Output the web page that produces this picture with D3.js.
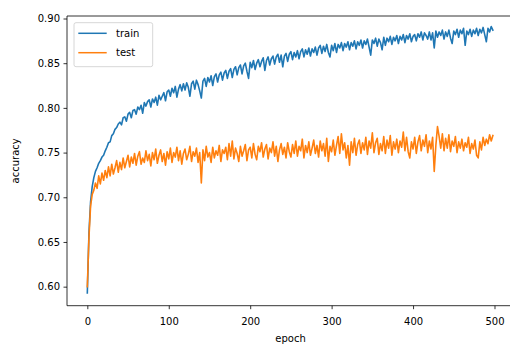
<!DOCTYPE html>
<html>
<head>
<meta charset="utf-8">
<script src="https://cdn.jsdelivr.net/npm/d3@7"></script>
<style>
  html, body { margin: 0; padding: 0; background: #fff; }
  svg { display: block; }
  text { font-family: "DejaVu Sans", sans-serif; }
</style>
</head>
<body>
<svg id="chart" width="510" height="345"></svg>
<script>
// ---- data (values every 2 epochs) ----
const epochStep = 2;
const trainAcc = [
  0.593,0.660,0.695,0.712,0.722,0.729,0.733,0.738,0.741,0.745,
  0.747,0.752,0.756,0.761,0.762,0.769,0.771,0.776,0.778,0.782,
  0.784,0.781,0.789,0.790,0.785,0.793,0.795,0.789,0.797,0.798,
  0.793,0.801,0.798,0.803,0.794,0.806,0.802,0.807,0.809,0.801,
  0.810,0.806,0.812,0.803,0.814,0.809,0.813,0.817,0.808,0.818,
  0.820,0.813,0.822,0.817,0.824,0.812,0.821,0.826,0.819,0.827,
  0.820,0.828,0.823,0.813,0.827,0.830,0.821,0.831,0.826,0.819,
  0.811,0.830,0.833,0.824,0.834,0.829,0.836,0.825,0.835,0.838,
  0.829,0.837,0.840,0.831,0.839,0.842,0.833,0.841,0.844,0.834,
  0.843,0.846,0.837,0.845,0.848,0.838,0.847,0.850,0.841,0.833,
  0.851,0.845,0.853,0.843,0.850,0.854,0.846,0.852,0.856,0.842,
  0.853,0.857,0.848,0.855,0.858,0.849,0.857,0.860,0.851,0.859,
  0.846,0.858,0.861,0.852,0.860,0.863,0.854,0.862,0.857,0.864,
  0.855,0.863,0.866,0.857,0.865,0.860,0.867,0.858,0.866,0.862,
  0.868,0.859,0.867,0.870,0.861,0.869,0.863,0.871,0.862,0.857,
  0.870,0.864,0.872,0.862,0.871,0.867,0.873,0.864,0.872,0.868,
  0.874,0.865,0.873,0.869,0.875,0.866,0.874,0.870,0.876,0.867,
  0.875,0.871,0.877,0.868,0.859,0.876,0.872,0.878,0.869,0.877,
  0.873,0.865,0.879,0.870,0.878,0.874,0.880,0.871,0.879,0.875,
  0.881,0.872,0.880,0.876,0.882,0.873,0.881,0.877,0.883,0.874,
  0.880,0.882,0.875,0.883,0.879,0.885,0.876,0.884,0.881,0.877,
  0.885,0.876,0.884,0.867,0.886,0.879,0.885,0.881,0.887,0.877,
  0.885,0.880,0.887,0.878,0.872,0.886,0.882,0.888,0.879,0.887,
  0.883,0.889,0.870,0.886,0.882,0.888,0.880,0.887,0.883,0.889,
  0.881,0.888,0.884,0.890,0.882,0.874,0.889,0.885,0.891,0.887
];
const testAcc = [
  0.600,0.655,0.690,0.703,0.708,0.716,0.710,0.724,0.715,0.727,
  0.719,0.730,0.722,0.734,0.724,0.737,0.726,0.733,0.741,0.728,
  0.739,0.731,0.744,0.733,0.740,0.747,0.734,0.745,0.738,0.749,
  0.736,0.746,0.751,0.737,0.744,0.739,0.752,0.741,0.748,0.735,
  0.750,0.742,0.754,0.738,0.747,0.753,0.740,0.749,0.736,0.751,
  0.743,0.755,0.739,0.750,0.745,0.756,0.741,0.752,0.737,0.749,
  0.754,0.742,0.748,0.757,0.740,0.751,0.746,0.755,0.739,0.750,
  0.716,0.753,0.741,0.757,0.745,0.750,0.739,0.756,0.744,0.752,
  0.747,0.758,0.740,0.753,0.749,0.756,0.742,0.760,0.746,0.763,
  0.743,0.755,0.749,0.740,0.757,0.746,0.752,0.759,0.741,0.753,
  0.756,0.744,0.760,0.748,0.742,0.757,0.751,0.761,0.745,0.754,
  0.759,0.743,0.755,0.750,0.762,0.746,0.757,0.740,0.753,0.760,
  0.748,0.756,0.744,0.761,0.751,0.745,0.759,0.749,0.763,0.746,
  0.757,0.752,0.765,0.744,0.758,0.750,0.762,0.747,0.755,0.764,
  0.749,0.758,0.745,0.763,0.752,0.760,0.746,0.766,0.740,0.757,
  0.751,0.764,0.747,0.758,0.768,0.749,0.771,0.753,0.761,0.744,
  0.758,0.736,0.762,0.750,0.766,0.747,0.759,0.764,0.749,0.761,
  0.753,0.767,0.748,0.763,0.755,0.772,0.750,0.761,0.766,0.748,
  0.760,0.752,0.768,0.749,0.764,0.755,0.769,0.747,0.762,0.754,
  0.765,0.750,0.763,0.756,0.773,0.752,0.767,0.751,0.744,0.762,
  0.754,0.767,0.749,0.762,0.769,0.752,0.764,0.757,0.770,0.750,
  0.763,0.754,0.767,0.729,0.758,0.779,0.768,0.755,0.771,0.752,
  0.766,0.755,0.770,0.751,0.763,0.757,0.768,0.750,0.762,0.755,
  0.765,0.752,0.761,0.756,0.767,0.749,0.760,0.754,0.764,0.747,
  0.744,0.762,0.753,0.767,0.758,0.765,0.760,0.770,0.763,0.769
];
const seriesNames = ["train", "test"];
const seriesColors = ["#1f77b4", "#ff7f0e"];
const xTicks = [0, 100, 200, 300, 400, 500];
const yTicks = [0.60, 0.65, 0.70, 0.75, 0.80, 0.85, 0.90];
const xLabel = "epoch";
const yLabel = "accuracy";

// ---- layout ----
const W = 510, H = 345;
const plot = { left: 67, top: 16, right: 514, bottom: 305.7 };

const svg = d3.select("#chart");

const x = d3.scaleLinear().domain([-24.95, 523.95]).range([plot.left, plot.right]);
const y = d3.scaleLinear().domain([0.5787, 0.9028]).range([plot.bottom, plot.top]);

const toPts = arr => arr.map((v, i) => [i * epochStep, v]);
const line = d3.line().x(d => x(d[0])).y(d => y(d[1]));

const series = [toPts(trainAcc), toPts(testAcc)];

svg.append("defs").append("clipPath").attr("id", "clip")
  .append("rect").attr("x", plot.left).attr("y", plot.top)
  .attr("width", plot.right - plot.left).attr("height", plot.bottom - plot.top);

const lines = svg.append("g").attr("clip-path", "url(#clip)");
series.forEach((s, i) => {
  lines.append("path")
    .datum(s)
    .attr("d", line)
    .attr("fill", "none")
    .attr("stroke", seriesColors[i])
    .attr("stroke-width", 1.6)
    .attr("stroke-linejoin", "round")
    .attr("stroke-linecap", "square");
});

// axes
const xAxis = svg.append("g")
  .attr("transform", `translate(0,${plot.bottom})`)
  .call(d3.axisBottom(x).tickValues(xTicks).tickFormat(d3.format("d"))
    .tickSize(3.5).tickPadding(3.5));
const yAxis = svg.append("g")
  .attr("transform", `translate(${plot.left},0)`)
  .call(d3.axisLeft(y).tickValues(yTicks).tickFormat(d3.format(".2f"))
    .tickSize(3.5).tickPadding(3.5));
[xAxis, yAxis].forEach(g => {
  g.select(".domain").remove();
  g.selectAll(".tick line").attr("stroke", "#000").attr("stroke-width", 0.8);
  g.selectAll(".tick text").attr("fill", "#000")
    .style("font-family", "'DejaVu Sans', sans-serif").style("font-size", "10px");
});
xAxis.selectAll(".tick text").attr("dy", null).attr("y", 19.8);

// spines
const spine = (x1, y1, x2, y2) => svg.append("line")
  .attr("x1", x1).attr("y1", y1).attr("x2", x2).attr("y2", y2)
  .attr("stroke", "#000").attr("stroke-width", 0.8);
spine(plot.left, plot.top, plot.left, plot.bottom);
spine(plot.left, plot.bottom, plot.right, plot.bottom);
spine(plot.left, plot.top, plot.right, plot.top);

// axis labels
svg.append("text")
  .attr("x", (plot.left + plot.right) / 2).attr("y", 341.5)
  .attr("text-anchor", "middle").attr("font-size", 10).attr("fill", "#000")
  .text(xLabel);
svg.append("text")
  .attr("transform", `translate(19,${(plot.top + plot.bottom) / 2}) rotate(-90)`)
  .attr("text-anchor", "middle").attr("font-size", 10).attr("fill", "#000")
  .text(yLabel);

// legend
const lg = svg.append("g");
lg.append("rect")
  .attr("x", 74).attr("y", 22.7).attr("width", 78.7).attr("height", 44)
  .attr("rx", 2).attr("ry", 2)
  .attr("fill", "#fff").attr("fill-opacity", 0.8)
  .attr("stroke", "#cccccc").attr("stroke-width", 0.8);
seriesNames.forEach((name, i) => {
  const yy = 33.3 + i * 19.4;
  lg.append("line")
    .attr("x1", 78.3).attr("x2", 106.7).attr("y1", yy).attr("y2", yy)
    .attr("stroke", seriesColors[i]).attr("stroke-width", 1.5);
  lg.append("text")
    .attr("x", 116).attr("y", yy + 3.6)
    .attr("font-size", 10).attr("fill", "#000")
    .text(name);
});
</script>
</body>
</html>
